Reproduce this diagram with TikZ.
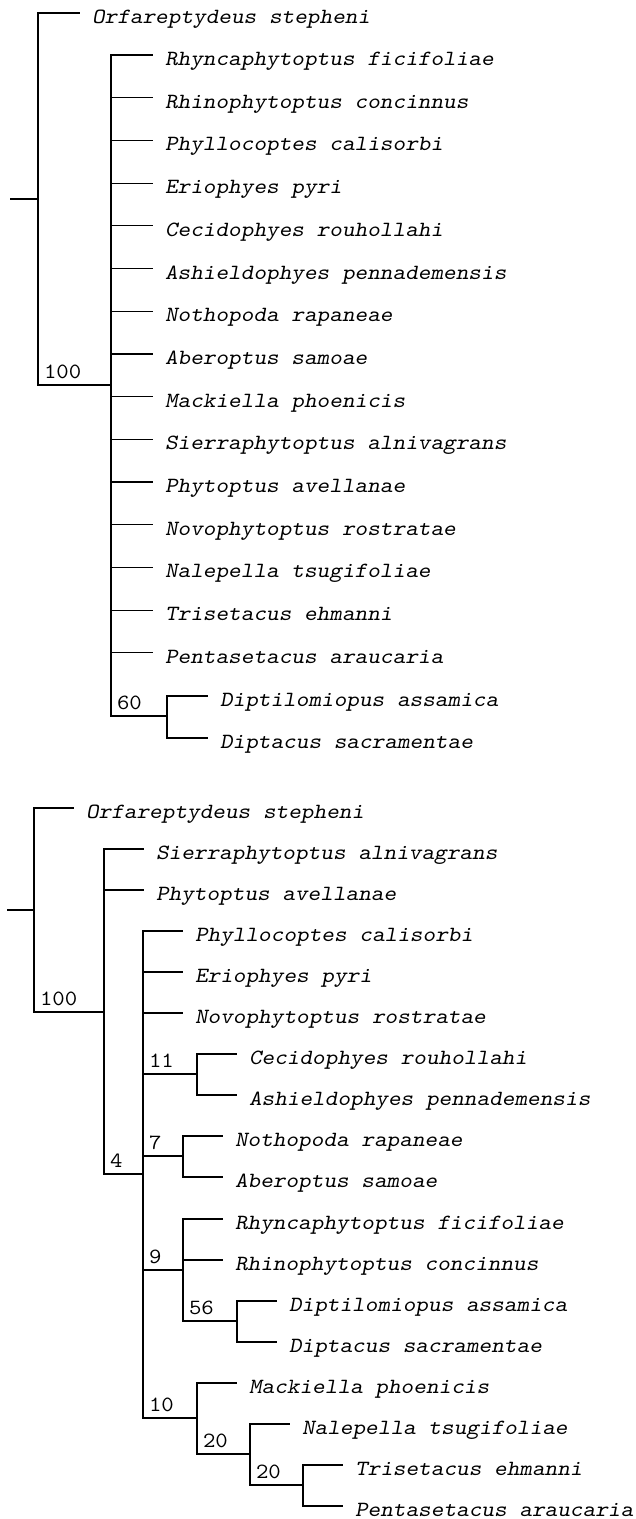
\documentclass[tikz,border=0pt]{standalone}
\usepackage{graphicx}
\newcommand\sptx[1]{\scalebox{1.11}[1]{\fontsize{21.7}{26}\selectfont\ttfamily\slshape #1}}
\newcommand\bstx[1]{\scalebox{1.11}[1]{\fontsize{21.7}{26}\selectfont\ttfamily\upshape #1}}
\tikzset{
  br/.style={line width=1.2pt, line join=miter},
  leaf/.style={anchor=base west, inner sep=0pt, outer sep=0pt},
  supp/.style={anchor=base west, inner sep=0pt, outer sep=0pt}
}
\begin{document}
\begin{tikzpicture}[x=1pt,y=-1pt]
\useasboundingbox (0,0) rectangle (636,1519);
% ---------------- Tree 1 ----------------
\coordinate (r1s) at (10,199);
\coordinate (r1) at (38,199);
\coordinate (o1) at (80,13);
\coordinate (a1) at (111,385);
\coordinate (n60) at (167,716);
\coordinate (d1a) at (208,696);
\coordinate (d1b) at (208,738);
\draw[br] (r1s) -- (r1);
\draw[br] (r1) |- (o1);
\draw[br] (r1) |- (a1);
\node[leaf] (to1) at (92,23.5) {\sptx{Orfareptydeus stepheni}};
\node[supp] (s100a) at (44,378) {\bstx{100}};
\foreach \i/\name in {0/Rhyncaphytoptus ficifoliae,1/Rhinophytoptus concinnus,2/Phyllocoptes calisorbi,3/Eriophyes pyri,4/Cecidophyes rouhollahi,5/Ashieldophyes pennademensis,6/Nothopoda rapaneae,7/Aberoptus samoae,8/Mackiella phoenicis,9/Sierraphytoptus alnivagrans,10/Phytoptus avellanae,11/Novophytoptus rostratae,12/Nalepella tsugifoliae,13/Trisetacus ehmanni,14/Pentasetacus araucaria}{
  \coordinate (la\i) at (153,{55+42.7*\i});
  \draw[br] (a1) |- (la\i);
  \node[leaf] (ta\i) at (165,{55+42.7*\i+10.5}) {\sptx{\name}};
}
\draw[br] (a1) |- (n60);
\node[supp] (s60) at (117,709) {\bstx{60}};
\draw[br] (n60) |- (d1a);
\draw[br] (n60) |- (d1b);
\node[leaf] (td1a) at (220,706.5) {\sptx{Diptilomiopus assamica}};
\node[leaf] (td1b) at (220,748.5) {\sptx{Diptacus sacramentae}};
% ---------------- Tree 2 ----------------
\coordinate (r2s) at (7,910);
\coordinate (r2) at (34,910);
\coordinate (o2) at (74,808);
\coordinate (b) at (104,1012);
\coordinate (ls) at (144,849);
\coordinate (lp) at (144,890);
\coordinate (c4) at (143,1174);
\coordinate (lph) at (183,931);
\coordinate (ler) at (183,972);
\coordinate (lno) at (183,1013);
\coordinate (c11) at (197,1074);
\coordinate (lce) at (237,1054);
\coordinate (las) at (237,1095);
\coordinate (c7) at (183,1156);
\coordinate (lnt) at (223,1136);
\coordinate (lab) at (223,1177);
\coordinate (c9) at (183,1270);
\coordinate (lrh) at (223,1219);
\coordinate (lri) at (223,1260);
\coordinate (c56) at (237,1321);
\coordinate (ldi) at (277,1301);
\coordinate (ldp) at (277,1342);
\coordinate (c10) at (197,1418);
\coordinate (lma) at (237,1383);
\coordinate (c20a) at (250,1454);
\coordinate (lna) at (290,1424);
\coordinate (c20b) at (303,1485);
\coordinate (ltr) at (343,1465);
\coordinate (lpe) at (343,1506);
\draw[br] (r2s) -- (r2);
\draw[br] (r2) |- (o2);
\draw[br] (r2) |- (b);
\draw[br] (b) |- (ls);
\draw[br] (b) |- (lp);
\draw[br] (b) |- (c4);
\draw[br] (c4) |- (lph);
\draw[br] (c4) |- (ler);
\draw[br] (c4) |- (lno);
\draw[br] (c4) |- (c11);
\draw[br] (c4) |- (c7);
\draw[br] (c4) |- (c9);
\draw[br] (c4) |- (c10);
\draw[br] (c11) |- (lce);
\draw[br] (c11) |- (las);
\draw[br] (c7) |- (lnt);
\draw[br] (c7) |- (lab);
\draw[br] (c9) |- (lrh);
\draw[br] (c9) |- (lri);
\draw[br] (c9) |- (c56);
\draw[br] (c56) |- (ldi);
\draw[br] (c56) |- (ldp);
\draw[br] (c10) |- (lma);
\draw[br] (c10) |- (c20a);
\draw[br] (c20a) |- (lna);
\draw[br] (c20a) |- (c20b);
\draw[br] (c20b) |- (ltr);
\draw[br] (c20b) |- (lpe);
\node[leaf] (to2) at (86,818.5) {\sptx{Orfareptydeus stepheni}};
\node[leaf] (tsi) at (156,859.5) {\sptx{Sierraphytoptus alnivagrans}};
\node[leaf] (tph) at (156,900.5) {\sptx{Phytoptus avellanae}};
\node[leaf] (tpy) at (195,941.5) {\sptx{Phyllocoptes calisorbi}};
\node[leaf] (ter) at (195,982.5) {\sptx{Eriophyes pyri}};
\node[leaf] (tno) at (195,1023.5) {\sptx{Novophytoptus rostratae}};
\node[leaf] (tce) at (249,1064.5) {\sptx{Cecidophyes rouhollahi}};
\node[leaf] (tas) at (249,1105.5) {\sptx{Ashieldophyes pennademensis}};
\node[leaf] (tnt) at (235,1146.5) {\sptx{Nothopoda rapaneae}};
\node[leaf] (tab) at (235,1187.5) {\sptx{Aberoptus samoae}};
\node[leaf] (trh) at (235,1229.5) {\sptx{Rhyncaphytoptus ficifoliae}};
\node[leaf] (tri) at (235,1270.5) {\sptx{Rhinophytoptus concinnus}};
\node[leaf] (tdi) at (289,1311.5) {\sptx{Diptilomiopus assamica}};
\node[leaf] (tdp) at (289,1352.5) {\sptx{Diptacus sacramentae}};
\node[leaf] (tma) at (249,1393.5) {\sptx{Mackiella phoenicis}};
\node[leaf] (tna) at (302,1434.5) {\sptx{Nalepella tsugifoliae}};
\node[leaf] (ttr) at (355,1475.5) {\sptx{Trisetacus ehmanni}};
\node[leaf] (tpe) at (355,1516.5) {\sptx{Pentasetacus araucaria}};
\node[supp] (s100b) at (40,1005) {\bstx{100}};
\node[supp] (s4) at (110,1167) {\bstx{4}};
\node[supp] (s11) at (149,1067) {\bstx{11}};
\node[supp] (s7) at (149,1149) {\bstx{7}};
\node[supp] (s9) at (149,1263) {\bstx{9}};
\node[supp] (s56) at (189,1314) {\bstx{56}};
\node[supp] (s10) at (149,1411) {\bstx{10}};
\node[supp] (s20a) at (203,1447) {\bstx{20}};
\node[supp] (s20b) at (256,1478) {\bstx{20}};
\end{tikzpicture}
\end{document}
